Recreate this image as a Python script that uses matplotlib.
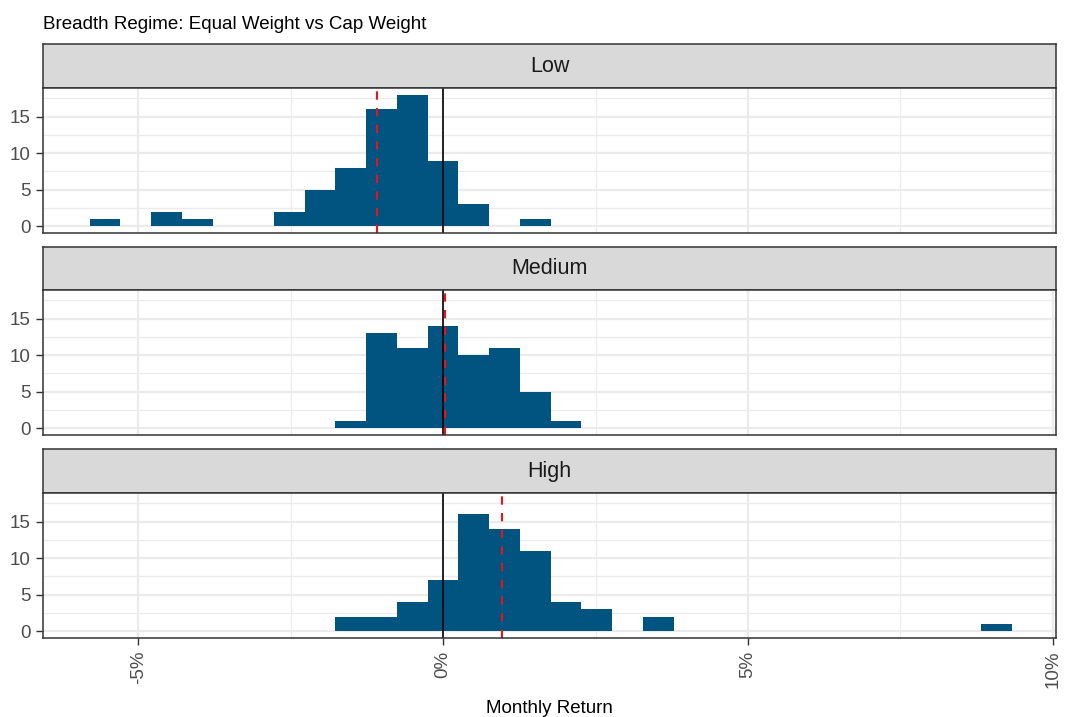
import matplotlib
matplotlib.use("Agg")
import matplotlib.pyplot as plt
import numpy as np

plt.rcParams['font.family'] = ['Liberation Sans', 'DejaVu Sans']

# ---- data ----
regimes = ["Low", "Medium", "High"]
bin_width = 0.504  # percent (30 bins over shared range)
low_centers = [-5.544, -4.536, -4.032, -2.520, -2.016, -1.512, -1.008, -0.504, 0.0, 0.504, 1.512]
low_counts = [1, 2, 1, 2, 5, 8, 16, 18, 9, 3, 1]
medium_centers = [-1.512, -1.008, -0.504, 0.0, 0.504, 1.008, 1.512, 2.016]
medium_counts = [1, 13, 11, 14, 10, 11, 5, 1]
high_centers = [-1.512, -1.008, -0.504, 0.0, 0.504, 1.008, 1.512, 2.016, 2.520, 3.528, 9.072]
high_counts = [2, 2, 4, 7, 16, 14, 11, 4, 3, 2, 1]
regime_means = [-1.08, 0.03, 0.96]
x_ticks = [-5, 0, 5, 10]
x_tick_labels = ["-5%", "0%", "5%", "10%"]
y_ticks = [0, 5, 10, 15]

centers = [low_centers, medium_centers, high_centers]
counts = [low_counts, medium_counts, high_counts]

W, H = 1068, 717
fig = plt.figure(figsize=(W / 100, H / 100), dpi=100)

left_px, right_px = 43, 1056
strips = [(44, 88), (247, 290), (449, 493)]
panels = [(88, 233), (290, 435), (493, 638)]

bar_color = "#01547F"
border = "#333333"
grid_c = "#EBEBEB"

def rect(top, bottom):
    return [left_px / W, 1 - bottom / H, (right_px - left_px) / W, (bottom - top) / H]

for i, name in enumerate(regimes):
    # strip
    sax = fig.add_axes(rect(*strips[i]))
    sax.set_facecolor("#D9D9D9")
    sax.set_xticks([]); sax.set_yticks([])
    for s in sax.spines.values():
        s.set_color(border); s.set_linewidth(1.1)
    sax.text(0.5, 0.5, name, ha="center", va="center", fontsize=15.5,
             color="#1A1A1A", transform=sax.transAxes)

    ax = fig.add_axes(rect(*panels[i]))
    ax.set_xlim(-6.56, 10.05)
    ax.set_ylim(-0.9, 18.9)
    ax.set_axisbelow(True)
    # grid
    for xv in [-2.5, 2.5, 7.5]:
        ax.axvline(xv, color=grid_c, lw=0.9, zorder=0)
    for xv in x_ticks:
        ax.axvline(xv, color=grid_c, lw=1.6, zorder=0)
    for yv in [2.5, 7.5, 12.5, 17.5]:
        ax.axhline(yv, color=grid_c, lw=0.9, zorder=0)
    for yv in y_ticks:
        ax.axhline(yv, color=grid_c, lw=1.6, zorder=0)

    ax.bar(centers[i], counts[i], width=bin_width, color=bar_color,
           linewidth=0, zorder=2)
    ax.axvline(0, color="black", lw=1.2, zorder=3)
    ax.axvline(regime_means[i], color="#E8141C", lw=1.5, ls=(0, (4, 4)), zorder=4)

    ax.set_yticks(y_ticks)
    ax.tick_params(axis="y", length=5, width=1.0, color=border, pad=4,
                   labelsize=13.5, labelcolor="#4D4D4D")
    ax.set_xticks(x_ticks)
    if i == 2:
        ax.set_xticklabels(x_tick_labels, rotation=90, va="top")
        ax.tick_params(axis="x", length=5, width=1.0, color=border, pad=4,
                       labelsize=13.5, labelcolor="#4D4D4D")
    else:
        ax.tick_params(axis="x", length=0, labelbottom=False)
    for s in ax.spines.values():
        s.set_color(border); s.set_linewidth(1.1)
        s.set_zorder(5)

fig.text(left_px / W, 1 - 29 / H, "Breadth Regime: Equal Weight vs Cap Weight",
         ha="left", va="baseline", fontsize=13.5, color="black")
fig.text((left_px + right_px) / 2 / W, 1 - 713 / H, "Monthly Return",
         ha="center", va="baseline", fontsize=13.5, color="black")

fig.savefig("out.png", dpi=100)
